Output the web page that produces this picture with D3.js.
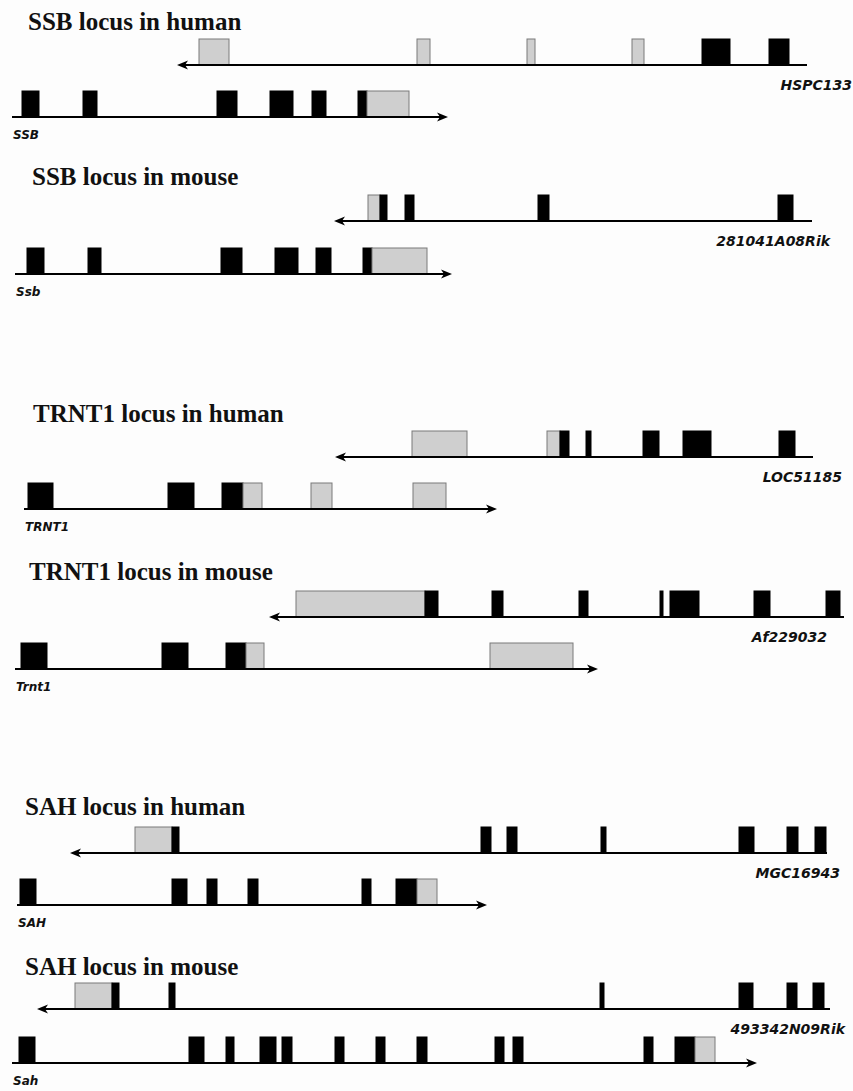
<!DOCTYPE html>
<html>
<head>
<meta charset="utf-8">
<script src="https://cdn.jsdelivr.net/npm/d3@7"></script>
<style>
  body { margin: 0; background: #fff; }
  svg { display: block; }
</style>
</head>
<body>
<div id="canvas"></div>
<script>
// panel titles, one per locus
const titles = [
  "SSB locus in human",
  "SSB locus in mouse",
  "TRNT1 locus in human",
  "TRNT1 locus in mouse",
  "SAH locus in human",
  "SAH locus in mouse"
];

// two genes per panel: first the reverse one (top), then the forward one (bottom)
const geneNames = [
  "HSPC133", "SSB",
  "281041A08Rik", "Ssb",
  "LOC51185", "TRNT1",
  "Af229032", "Trnt1",
  "MGC16943", "SAH",
  "493342N09Rik", "Sah"
];
const geneStrands = [-1, 1, -1, 1, -1, 1, -1, 1, -1, 1, -1, 1];

// gene extent along the schematic axis
const geneSpans = [
  [177, 807], [12, 448],
  [334, 812], [15, 452],
  [335, 813], [24, 497],
  [269, 844], [15, 598],
  [70, 827], [17, 487],
  [37, 830], [12, 757]
];

// exons: [start, end, kind]  c = coding (black), u = untranslated (grey)
const geneExons = [
  [[199, 229, "u"], [417, 430, "u"], [527, 535, "u"], [632, 644, "u"], [702, 730, "c"], [769, 789, "c"]],
  [[22, 39, "c"], [83, 97, "c"], [217, 237, "c"], [270, 293, "c"], [312, 326, "c"], [358, 367, "c"], [367, 409, "u"]],
  [[368, 380, "u"], [380, 387, "c"], [405, 414, "c"], [538, 549, "c"], [778, 793, "c"]],
  [[27, 44, "c"], [88, 101, "c"], [221, 242, "c"], [275, 298, "c"], [316, 331, "c"], [363, 372, "c"], [372, 427, "u"]],
  [[412, 467, "u"], [547, 560, "u"], [560, 569, "c"], [586, 591, "c"], [643, 659, "c"], [683, 711, "c"], [779, 795, "c"]],
  [[28, 53, "c"], [168, 194, "c"], [222, 243, "c"], [243, 262, "u"], [311, 332, "u"], [413, 446, "u"]],
  [[296, 425, "u"], [425, 438, "c"], [492, 503, "c"], [579, 588, "c"], [660, 663, "c"], [670, 699, "c"], [754, 770, "c"], [826, 840, "c"]],
  [[21, 47, "c"], [162, 188, "c"], [226, 246, "c"], [246, 264, "u"], [490, 573, "u"]],
  [[135, 172, "u"], [172, 179, "c"], [481, 491, "c"], [507, 517, "c"], [601, 606, "c"], [739, 754, "c"], [787, 798, "c"], [815, 826, "c"]],
  [[20, 36, "c"], [172, 187, "c"], [207, 217, "c"], [248, 258, "c"], [362, 371, "c"], [396, 417, "c"], [417, 437, "u"]],
  [[75, 112, "u"], [112, 119, "c"], [169, 175, "c"], [600, 604, "c"], [739, 753, "c"], [787, 797, "c"], [813, 824, "c"]],
  [[19, 35, "c"], [189, 204, "c"], [226, 234, "c"], [260, 276, "c"], [282, 292, "c"], [335, 344, "c"], [376, 385, "c"], [417, 427, "c"], [495, 504, "c"], [513, 523, "c"], [644, 653, "c"], [675, 695, "c"], [695, 715, "u"]]
];

// layout
const width = 853;
const height = 1091;
const titleX = [28, 32, 33, 29, 25, 25];
const titleY = [30, 185, 422, 580, 815, 975];
const topLineY = [65, 221, 457, 617, 853, 1009];
const botLineY = [117, 274, 509, 669, 905, 1063];
const topLabelEnd = [852, 830, 842, 827, 840, 845];
const exonH = 26;

const x = d3.scaleLinear([0, width], [0, width]);

const svg = d3
  .select("#canvas")
  .append("svg")
  .attr("width", width)
  .attr("height", height)
  .attr("viewBox", [0, 0, width, height]);

svg.append("rect").attr("width", width).attr("height", height).attr("fill", "#fdfdfd");

// titles
svg
  .selectAll("text.title")
  .data(titles)
  .enter()
  .append("text")
  .attr("class", "title")
  .attr("x", (d, i) => titleX[i])
  .attr("y", (d, i) => titleY[i])
  .attr("font-family", "'Liberation Serif', 'Times New Roman', serif")
  .attr("font-weight", "bold")
  .attr("font-size", 25)
  .attr("fill", "#111")
  .text((d) => d);

// genes
geneNames.forEach((name, g) => {
  const panel = Math.floor(g / 2);
  const isTop = g % 2 === 0;
  const y = isTop ? topLineY[panel] : botLineY[panel];
  const [s, e] = geneSpans[g];
  const tip = geneStrands[g] < 0 ? x(s) : x(e);
  const dir = geneStrands[g] < 0 ? 1 : -1;

  const gg = svg.append("g");

  // exons
  gg.selectAll("rect")
    .data(geneExons[g])
    .enter()
    .append("rect")
    .attr("x", (d) => x(d[0]))
    .attr("y", y - exonH)
    .attr("width", (d) => x(d[1]) - x(d[0]))
    .attr("height", exonH)
    .attr("fill", (d) => (d[2] === "c" ? "#000" : "#cfcfcf"))
    .attr("stroke", (d) => (d[2] === "c" ? "#000" : "#7a7a7a"))
    .attr("stroke-width", 1);

  // backbone
  gg.append("line")
    .attr("x1", x(s) + (geneStrands[g] < 0 ? 6 : 0))
    .attr("x2", x(e) - (geneStrands[g] > 0 ? 6 : 0))
    .attr("y1", y)
    .attr("y2", y)
    .attr("stroke", "#000")
    .attr("stroke-width", 2);

  // arrow head
  gg.append("path")
    .attr("d", `M${tip},${y} L${tip + dir * 11},${y - 4.5} L${tip + dir * 8},${y} L${tip + dir * 11},${y + 4.5} Z`)
    .attr("fill", "#000");

  // gene label
  gg.append("text")
    .attr("x", isTop ? topLabelEnd[panel] : x(s) + 1)
    .attr("y", isTop ? y + 25 : y + 22)
    .attr("text-anchor", isTop ? "end" : "start")
    .attr("font-family", "'DejaVu Sans', sans-serif")
    .attr("font-weight", "bold")
    .attr("font-style", "italic")
    .attr("font-size", isTop ? 14 : 12)
    .attr("fill", "#111")
    .text(name);
});
</script>
</body>
</html>
